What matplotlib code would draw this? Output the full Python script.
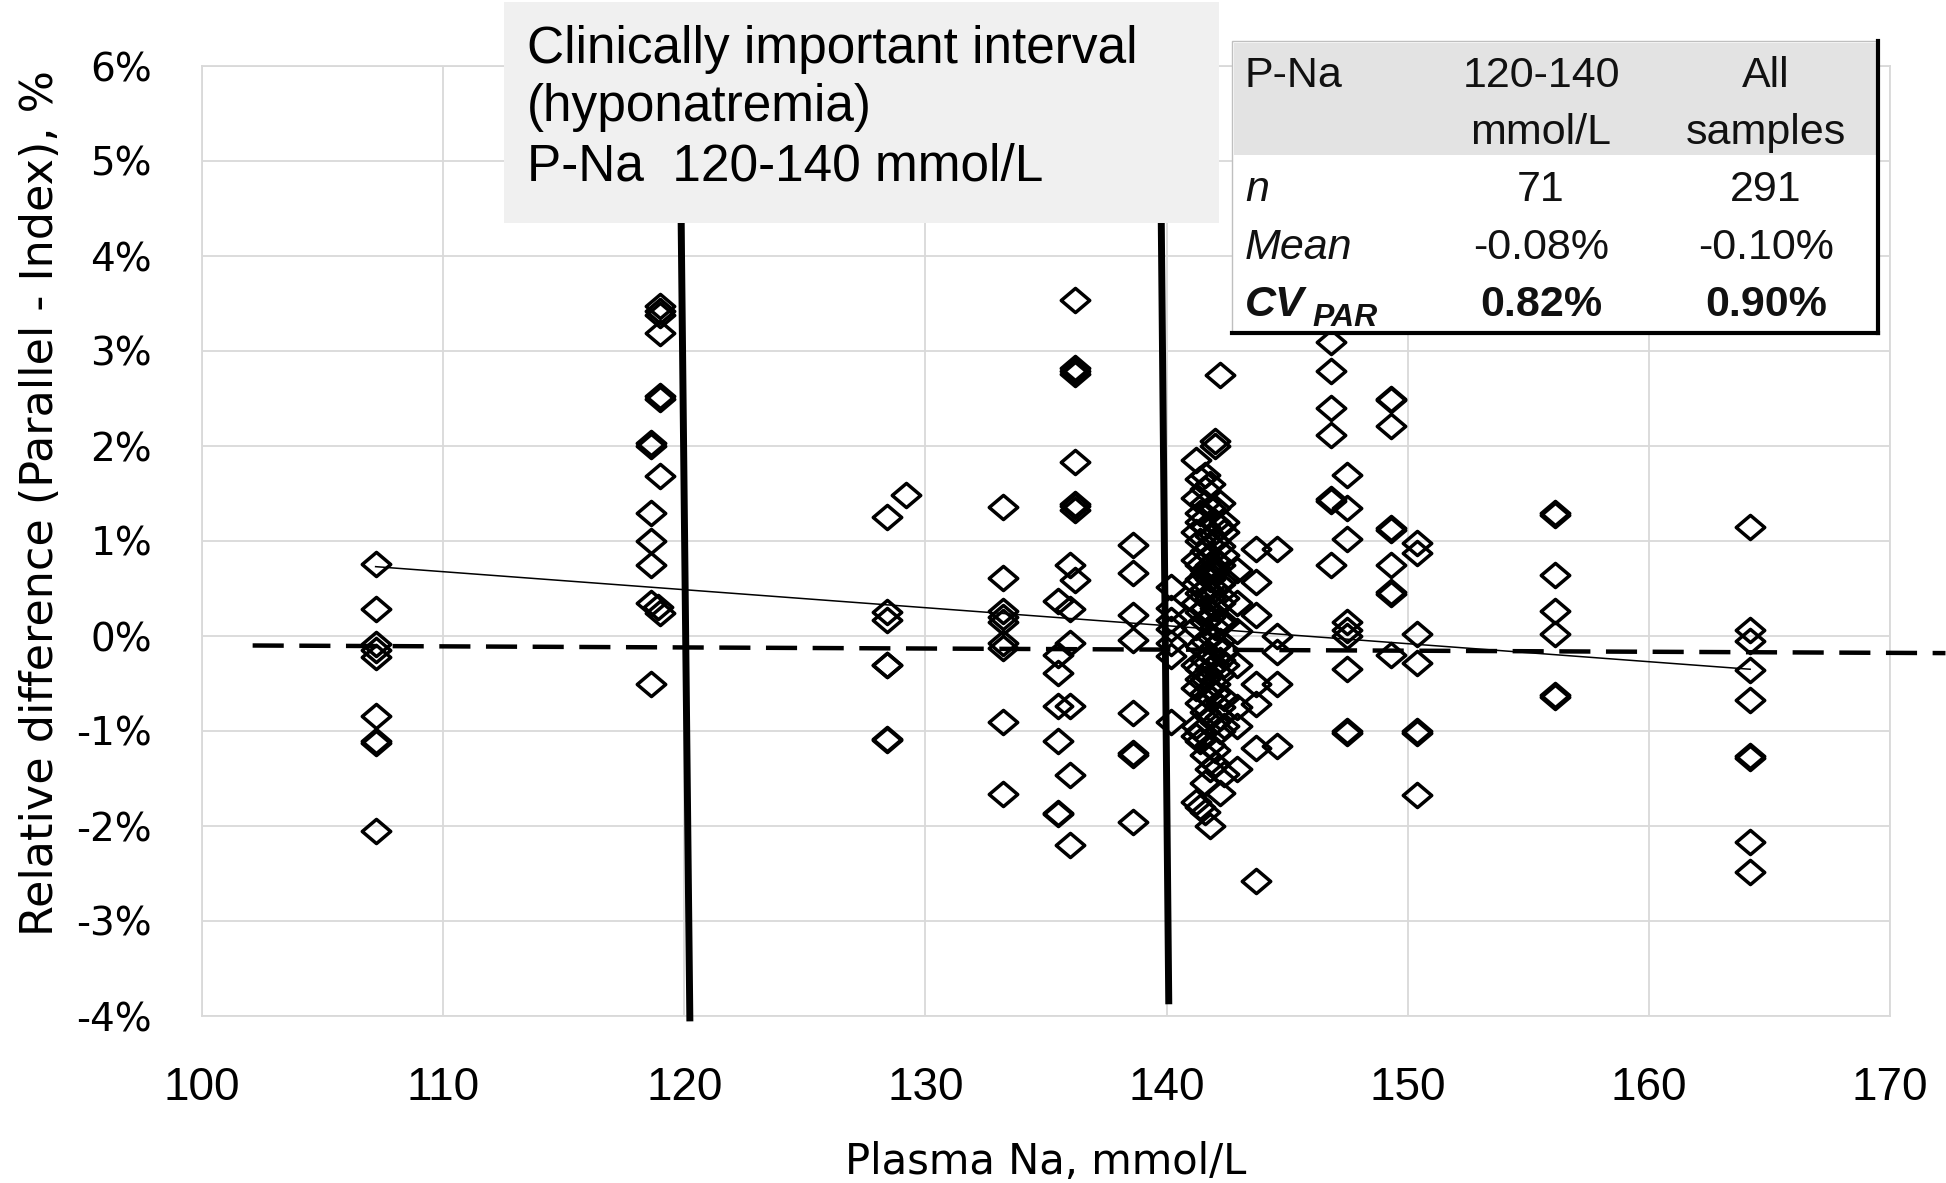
import matplotlib
matplotlib.use('Agg')
import matplotlib.pyplot as plt
from matplotlib.path import Path
from matplotlib.patches import Rectangle
from matplotlib.lines import Line2D

# plasma Na (mmol/L) and relative difference (%) for each sample, grouped by column
plasma_na = ([107.2] * 9 +
             [118.6] * 7 + [118.9] + [119.0] * 8 +
             [128.4] * 7 + [129.2] +
             [133.2] * 9 +
             [135.5] * 7 + [136.0] * 6 + [136.2] * 9 +
             [138.6] * 8 +
             [140.2] * 7 +
             [141.2] * 12 + [141.4] * 15 + [141.6] * 18 + [141.8] * 18 + [142.0] * 18 +
             [142.2] * 15 + [142.4] * 11 + [142.9] * 7 +
             [143.7] * 7 + [144.6] * 5 +
             [146.8] * 7 + [147.5] * 9 +
             [149.3] * 9 + [150.4] * 7 +
             [156.1] * 7 +
             [164.2] * 9)

rel_diff = ([0.76, 0.28, -0.08, -0.15, -0.22, -0.84, -1.10, -1.13, -2.05] +
            [2.03, 2.00, 1.29, 1.00, 0.75, 0.35, -0.50] + [0.31] +
            [3.47, 3.42, 3.38, 3.19, 2.53, 2.50, 1.68, 0.24] +
            [1.25, 0.25, 0.17, -0.30, -0.31, -1.08, -1.09] + [1.48] +
            [1.36, 0.61, 0.26, 0.20, 0.15, -0.07, -0.13, -0.91, -1.66] +
            [0.37, -0.20, -0.39, -0.74, -1.11, -1.86, -1.87] +
            [0.75, 0.28, -0.07, -0.74, -1.46, -2.20] +
            [3.54, 2.82, 2.79, 2.76, 1.83, 1.39, 1.37, 1.33, 0.59] +
            [0.96, 0.66, 0.22, -0.04, -0.81, -1.23, -1.25, -1.96] +
            [0.52, 0.30, 0.17, 0.07, -0.07, -0.21, -0.91] +
            [1.85, 1.45, 1.10, 0.80, 0.55, 0.35, 0.10, -0.30, -0.55, -0.95, -1.05, -1.75] +
            [1.65, 1.30, 1.20, 1.00, 0.75, 0.60, 0.45, 0.25, -0.10, -0.35, -0.45, -0.70, -1.00,
             -1.10, -1.80] +
            [1.70, 1.55, 1.40, 1.15, 0.90, 0.70, 0.65, 0.50, 0.30, 0.15, -0.05, -0.25, -0.45,
             -0.60, -0.80, -1.25, -1.55, -1.85] +
            [1.60, 1.35, 1.05, 0.85, 0.75, 0.70, 0.60, 0.40, 0.20, 0.00, -0.20, -0.35, -0.55,
             -0.65, -0.85, -1.15, -1.40, -2.00] +
            [2.05, 2.00, 1.35, 1.20, 1.00, 0.80, 0.72, 0.68, 0.50, 0.30, 0.10, -0.10, -0.30,
             -0.50, -0.60, -0.90, -1.20, -1.35] +
            [2.75, 1.40, 1.15, 0.95, 0.75, 0.55, 0.35, 0.15, -0.05, -0.25, -0.40, -0.75, -0.85,
             -1.00, -1.65] +
            [1.20, 1.10, 0.85, 0.60, 0.40, 0.15, -0.15, -0.30, -0.65, -0.95, -1.45] +
            [0.70, 0.35, 0.05, -0.30, -0.75, -0.95, -1.40] +
            [0.92, 0.57, 0.22, -0.50, -0.72, -1.18, -2.58] +
            [0.92, 0.00, -0.17, -0.50, -1.16] +
            [3.10, 2.79, 2.40, 2.12, 1.44, 1.42, 0.75] +
            [1.69, 1.35, 1.02, 0.15, 0.06, 0.00, -0.35, -1.00, -1.02] +
            [2.50, 2.48, 2.21, 1.14, 1.12, 0.75, 0.46, 0.44, -0.20] +
            [0.98, 0.87, 0.02, -0.28, -1.00, -1.02, -1.67] +
            [1.29, 1.27, 0.64, 0.26, 0.02, -0.62, -0.64] +
            [1.15, 0.06, -0.05, -0.36, -0.67, -1.26, -1.28, -2.17, -2.48])

# regression line and mean line
fit_x = [107.2, 164.2]
fit_y = [0.73, -0.35]
mean_x = [102.1, 172.3]
mean_y = [-0.10, -0.18]

# hand-drawn interval borders (120 and 140 mmol/L)
lo_x = [119.87, 120.23]
lo_y = [4.36, -4.02]
hi_x = [139.78, 140.09]
hi_y = [4.36, -3.84]

x_ticks = [100, 110, 120, 130, 140, 150, 160, 170]
y_ticks = [-4, -3, -2, -1, 0, 1, 2, 3, 4, 5, 6]

note_lines = 'Clinically important interval\n(hyponatremia)\nP-Na  120-140 mmol/L'
table_head = [['120-140', 'mmol/L'], ['All', 'samples']]
table_n = ['71', '291']
table_mean = ['-0.08%', '-0.10%']
table_cv = ['0.82%', '0.90%']

W, H = 1946, 1183
fig = plt.figure(figsize=(W / 100, H / 100), dpi=100)
ax = fig.add_axes([202 / W, 1 - 1016 / H, (1890 - 202) / W, (1016 - 66) / H])


def fx(px):
    return px / W


def fy(py):
    return 1 - py / H


ax.set_xlim(100, 170)
ax.set_ylim(-4, 6)
ax.set_xticks(x_ticks)
ax.set_yticks(y_ticks)
ax.set_xticklabels([str(v) for v in x_ticks], fontsize=33, family='Liberation Sans')
ax.set_yticklabels(['%d%%' % v for v in y_ticks], fontsize=28, family='DejaVu Sans')
ax.tick_params(length=0, pad=36)
ax.grid(color='#d9d9d9', lw=1.3)
ax.set_axisbelow(True)
for s in ax.spines.values():
    s.set_color('#d9d9d9')
    s.set_linewidth(1.3)

ax.set_xlabel('Plasma Na, mmol/L', fontsize=30, labelpad=22)
ax.set_ylabel('Relative difference (Parallel - Index), %', fontsize=32)
ax.yaxis.set_label_coords(-0.083, 0.54)

diamond = Path([(-1, 0), (0, 0.85), (1, 0), (0, -0.85), (-1, 0)],
               [Path.MOVETO, Path.LINETO, Path.LINETO, Path.LINETO, Path.CLOSEPOLY])
ax.plot(plasma_na, rel_diff, linestyle='none', marker=diamond, ms=20.5,
        mfc='none', mec='black', mew=2.5, zorder=3)

ax.plot(fit_x, fit_y, color='black', lw=1.1, zorder=4)
ax.plot(mean_x, mean_y, color='black', lw=3.2, linestyle=(0, (7, 3.5)), clip_on=False, zorder=4)
ax.plot(lo_x, lo_y, color='black', lw=5, clip_on=False, zorder=5)
ax.plot(hi_x, hi_y, color='black', lw=5, clip_on=False, zorder=5)

# annotation box
ax.add_patch(Rectangle((fx(504), fy(223)), fx(1219 - 504), (223 - 2) / H, transform=fig.transFigure,
                       facecolor='#f0f0f0', edgecolor='none', clip_on=False, zorder=6))
ax.text(fx(527), fy(108), note_lines, transform=fig.transFigure, fontsize=37,
        family='Liberation Sans', va='center', ha='left', linespacing=1.26, zorder=7)

# statistics table
tx0, tx1, ty0, ty1 = 1232, 1878, 41, 333
ax.add_patch(Rectangle((fx(tx0), fy(ty1)), fx(tx1 - tx0), (ty1 - ty0) / H, transform=fig.transFigure,
                       facecolor='white', edgecolor='#bfbfbf', lw=1, clip_on=False, zorder=6))
ax.add_patch(Rectangle((fx(tx0 + 2), fy(155)), fx(tx1 - tx0 - 4), (155 - ty0 - 2) / H,
                       transform=fig.transFigure, facecolor='#e3e3e3', edgecolor='none',
                       clip_on=False, zorder=6))
ax.add_artist(Line2D([fx(tx1), fx(tx1)], [fy(ty0), fy(ty1)], transform=fig.transFigure,
                     color='black', lw=3, zorder=7, clip_on=False))
ax.add_artist(Line2D([fx(tx0), fx(tx1)], [fy(ty1), fy(ty1)], transform=fig.transFigure,
                     color='black', lw=3, zorder=7, clip_on=False))

tfont = dict(transform=fig.transFigure, fontsize=31, family='Liberation Sans', va='center',
             zorder=8, color='#111111')
col_x = [1541, 1766]
row_y = [76, 133, 190, 248, 305]
ax.text(fx(1245), fy(row_y[0]), 'P-Na', ha='left', **tfont)
for i in range(2):
    ax.text(fx(col_x[i]), fy(row_y[0]), table_head[i][0], ha='center', **tfont)
    ax.text(fx(col_x[i]), fy(row_y[1]), table_head[i][1], ha='center', **tfont)
    ax.text(fx(col_x[i]), fy(row_y[2]), table_n[i], ha='center', **tfont)
    ax.text(fx(col_x[i]), fy(row_y[3]), table_mean[i], ha='center', **tfont)
    ax.text(fx(col_x[i]), fy(row_y[4]), table_cv[i], ha='center', weight='bold', **tfont)
ax.text(fx(1245), fy(row_y[2]), 'n', ha='left', style='italic', **tfont)
ax.text(fx(1245), fy(row_y[3]), 'Mean', ha='left', style='italic', **tfont)
ax.text(fx(1245), fy(row_y[4]), 'CV', ha='left', style='italic', weight='bold', **tfont)
sub = dict(tfont)
sub['fontsize'] = 23
ax.text(fx(1312), fy(318), 'PAR', ha='left', style='italic', weight='bold', **sub)

fig.savefig('out.png', dpi=100)
